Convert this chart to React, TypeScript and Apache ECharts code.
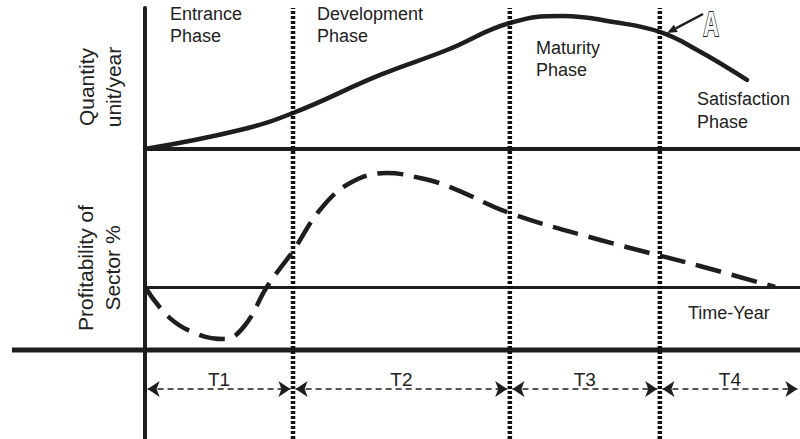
import React, { useEffect, useRef } from "react";
import * as echarts from "echarts";

// Phase boundaries on the time axis (0..100 time units)
const phaseBounds = [0, 22.6, 55.7, 78.6, 100];
const phaseNames = ["T1", "T2", "T3", "T4"];
const timeRowLevel = 11.6;

// Quantity (unit/year) curve
const quantityTime = [0, 14.5, 22.6, 35.9, 46.1, 55.7, 63.8, 71.5, 78.6, 84.3, 91.9];
const quantityValue = [0, 13.6, 25.7, 52.9, 70.7, 90, 95, 90.7, 83.6, 70.7, 49.3];

// Profitability of sector (%) curve
const profitTime = [0, 3.8, 8.4, 12.2, 15.3, 18.6, 22.7, 26.7, 31.3, 36.9, 42, 46.6, 55.7, 69.5, 84.7, 96.2];
const profitValue = [0, -14.8, -22.9, -24.8, -18.1, 0, 17.6, 36.7, 49.5, 54.3, 51.9, 47.6, 35.2, 22.4, 10, 0];

const INK = "#1e1e1e";
const FONT = "Liberation Sans, Arial, sans-serif";

function txt(text: string, x: number, y: number, opts: any = {}) {
  return {
    type: "text",
    x,
    y,
    rotation: opts.rotation || 0,
    scaleX: opts.scaleX || 1,
    style: {
      text,
      fill: opts.fill || "#222",
      font: `${opts.weight || "normal"} ${opts.size || 18}px ${opts.family || FONT}`,
      lineHeight: opts.lineHeight || 22,
      textAlign: opts.align || "left",
      align: opts.align || "left",
      textVerticalAlign: opts.valign || "top",
      verticalAlign: opts.valign || "top",
      stroke: opts.stroke,
      lineWidth: opts.lineWidth,
    },
    z: 100,
  };
}

export default function App() {
  const ref = useRef<HTMLDivElement>(null);

  useEffect(() => {
    if (!ref.current) return;
    const chart = echarts.init(ref.current, undefined, { renderer: "svg" });

    const hiddenAxis = {
      show: true,
      axisTick: { show: false },
      axisLabel: { show: false },
      splitLine: { show: false },
    };

    const boundarySeries = phaseBounds.slice(1, 4).map((b, i) => ({
      name: "Boundary" + (i + 1),
      type: "line",
      xAxisIndex: 2,
      yAxisIndex: 2,
      data: [[b, 0], [b, 100]],
      showSymbol: false,
      symbol: "none",
      silent: true,
      lineStyle: { color: "#111", width: 4.5, type: [3, 2] },
      z: 6,
    }));

    const option: any = {
      animation: false,
      backgroundColor: "#ffffff",
      grid: [
        { left: 145, right: 0, top: 9, height: 140 },
        { left: 145, right: 0, top: 140, height: 210 },
        { left: 145, right: 0, top: 8, bottom: 0 },
      ],
      xAxis: [
        {
          type: "value", gridIndex: 0, min: 0, max: 100, ...hiddenAxis,
          axisLine: { show: true, lineStyle: { color: INK, width: 4 } },
        },
        {
          type: "value", gridIndex: 1, min: 0, max: 100, ...hiddenAxis,
          axisLine: { show: true, onZero: true, lineStyle: { color: INK, width: 3 } },
        },
        {
          type: "value", gridIndex: 2, min: 0, max: 100, ...hiddenAxis,
          axisLine: { show: false },
        },
      ],
      yAxis: [
        {
          type: "value", gridIndex: 0, min: 0, max: 100, ...hiddenAxis,
          axisLine: { show: false },
        },
        {
          type: "value", gridIndex: 1, min: -30, max: 70, ...hiddenAxis,
          axisLine: { show: false },
        },
        {
          type: "value", gridIndex: 2, min: 0, max: 100, ...hiddenAxis,
          axisLine: { show: true, lineStyle: { color: INK, width: 4 } },
        },
      ],
      series: [
        {
          name: "Quantity",
          type: "line",
          xAxisIndex: 0,
          yAxisIndex: 0,
          data: quantityTime.map((t, i) => [t, quantityValue[i]]),
          smooth: 0.45,
          showSymbol: false,
          symbol: "none",
          lineStyle: { color: INK, width: 4.5, cap: "round" },
          z: 5,
        },
        {
          name: "Profitability",
          type: "line",
          xAxisIndex: 1,
          yAxisIndex: 1,
          data: profitTime.map((t, i) => [t, profitValue[i]]),
          smooth: 0.4,
          showSymbol: false,
          symbol: "none",
          lineStyle: { color: INK, width: 4.5, type: [26, 11] },
          z: 5,
        },
        ...boundarySeries,
        {
          name: "Periods",
          type: "lines",
          coordinateSystem: "cartesian2d",
          xAxisIndex: 2,
          yAxisIndex: 2,
          symbol: ["arrow", "arrow"],
          symbolSize: [12, 12],
          silent: true,
          lineStyle: { color: INK, width: 1.5, type: [6, 4], opacity: 1, curveness: 0 },
          label: {
            show: true,
            position: "middle",
            formatter: "{b}",
            color: "#222",
            fontSize: 19,
            fontFamily: FONT,
            distance: 0,
          },
          data: phaseNames.map((n, i) => ({
            name: n,
            coords: [
              [phaseBounds[i] + 0.4, timeRowLevel],
              [phaseBounds[i + 1] - 0.4, timeRowLevel],
            ],
          })),
          z: 7,
        },
      ],
      graphic: [
        {
          type: "line",
          shape: { x1: 12, y1: 350, x2: 800, y2: 350 },
          style: { stroke: INK, lineWidth: 5 },
          z: 4,
        },
        txt("Entrance\nPhase", 170, 3),
        txt("Development\nPhase", 317, 3),
        txt("Maturity\nPhase", 536, 37),
        txt("Satisfaction\nPhase", 697, 87, { lineHeight: 23 }),
        txt("Time-Year", 688, 313, { valign: "middle" }),
        txt("Quantity\nunit/year", 100, 87, {
          rotation: Math.PI / 2, size: 21, lineHeight: 27, align: "center", valign: "middle",
        }),
        txt("Profitability of\nSector %", 99, 268, {
          rotation: Math.PI / 2, size: 21, lineHeight: 27, align: "center", valign: "middle",
        }),
        txt("A", 711, 23, {
          size: 36, weight: "bold", align: "center", valign: "middle", scaleX: 0.6,
          fill: "#ffffff", stroke: "#222", lineWidth: 2,
        }),
        {
          type: "line",
          shape: { x1: 703, y1: 14, x2: 675.8, y2: 28.3 },
          style: { stroke: INK, lineWidth: 2.5 },
          z: 100,
        },
        {
          type: "polygon",
          shape: { points: [[667, 33], [677.7, 31.9], [673.9, 24.8]] },
          style: { fill: INK },
          z: 100,
        },
      ],
    };

    chart.setOption(option);
    return () => chart.dispose();
  }, []);

  return <div ref={ref} style={{ width: 800, height: 439, position: "absolute", left: 0, top: 0 }} />;
}
